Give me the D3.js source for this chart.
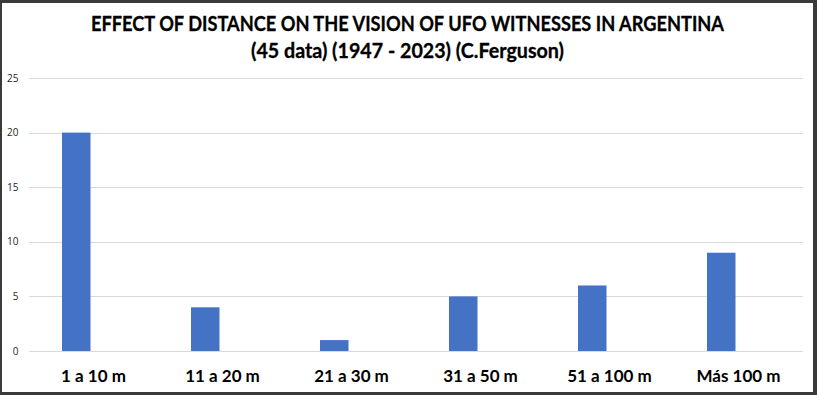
<!DOCTYPE html>
<html>
<head>
<meta charset="utf-8">
<script src="https://cdn.jsdelivr.net/npm/d3@7.9.0/dist/d3.min.js"></script>
<style>
  html, body { margin: 0; padding: 0; background: #3a3a3a; }
  svg { display: block; }
</style>
</head>
<body>
<svg id="chart" width="817" height="395"></svg>
<script>
const categories = ['1 a 10 m', '11 a 20 m', '21 a 30 m', '31 a 50 m', '51 a 100 m', 'Más 100 m'];
const counts = [20, 4, 1, 5, 6, 9];
const yTicks = [0, 5, 10, 15, 20, 25];
const titleLines = [
  'EFFECT OF DISTANCE ON THE VISION OF UFO WITNESSES IN ARGENTINA',
  '(45 data) (1947 - 2023) (C.Ferguson)'
];

const svg = d3.select('#chart');

// dark frame + white chart area
svg.append('rect').attr('width', 817).attr('height', 395).attr('fill', '#3a3a3a');
svg.append('rect')
  .attr('x', 2).attr('y', 3).attr('width', 811).attr('height', 389)
  .attr('fill', '#ffffff');

const plot = { left: 29, right: 803, top: 78, bottom: 351 };

const x = d3.scaleBand()
  .domain(categories)
  .range([plot.left, plot.right])
  .padding(0);

// two slots per category like the source (second series is empty)
const xInner = d3.scaleBand()
  .domain(['count', 'blank'])
  .range([0, x.bandwidth()])
  .paddingInner(0.174)
  .paddingOuter(0.957);

const y = d3.scaleLinear()
  .domain([0, 25])
  .range([plot.bottom, plot.top]);

// gridlines
svg.append('g')
  .selectAll('line')
  .data(yTicks)
  .join('line')
  .attr('x1', plot.left)
  .attr('x2', plot.right)
  .attr('y1', (d) => Math.round(y(d)) + 0.5)
  .attr('y2', (d) => Math.round(y(d)) + 0.5)
  .attr('stroke', '#d9d9d9')
  .attr('stroke-width', 1);

// y tick labels
svg.append('g')
  .selectAll('text')
  .data(yTicks)
  .join('text')
  .attr('x', 18.5)
  .attr('y', (d) => y(d))
  .attr('dy', '0.35em')
  .attr('text-anchor', 'end')
  .attr('font-family', 'Open Sans, sans-serif')
  .attr('font-size', 10)
  .attr('fill', '#262626')
  .text((d) => d);

// bars
svg.append('g')
  .selectAll('rect')
  .data(categories.map((c, i) => ({ cat: c, value: counts[i] })))
  .join('rect')
  .attr('x', (d) => x(d.cat) + xInner('count'))
  .attr('width', xInner.bandwidth())
  .attr('y', (d) => y(d.value))
  .attr('height', (d) => y(0) - y(d.value))
  .attr('fill', '#4472c4');

// x axis labels
const xAxis = svg.append('g')
  .attr('transform', `translate(0,${plot.bottom})`)
  .call(d3.axisBottom(x).tickSize(0).tickPadding(0));
xAxis.select('.domain').remove();
xAxis.selectAll('text')
  .attr('y', 31)
  .attr('dy', 0)
  .attr('font-family', 'Lato, sans-serif')
  .attr('font-weight', 'bold')
  .attr('font-size', 17)
  .attr('fill', '#000000');

// title
const titleWidths = [633, 313];
svg.append('g')
  .selectAll('text')
  .data(titleLines)
  .join('text')
  .attr('x', 407.5)
  .attr('y', (d, i) => (i === 0 ? 31 : 58))
  .attr('text-anchor', 'middle')
  .attr('font-family', 'Lato, sans-serif')
  .attr('font-weight', 'bold')
  .attr('font-size', 20.5)
  .attr('fill', '#000000')
  .attr('stroke', '#000000')
  .attr('stroke-width', 0.3)
  .attr('textLength', (d, i) => titleWidths[i])
  .attr('lengthAdjust', 'spacingAndGlyphs')
  .text((d) => d);
</script>
</body>
</html>
